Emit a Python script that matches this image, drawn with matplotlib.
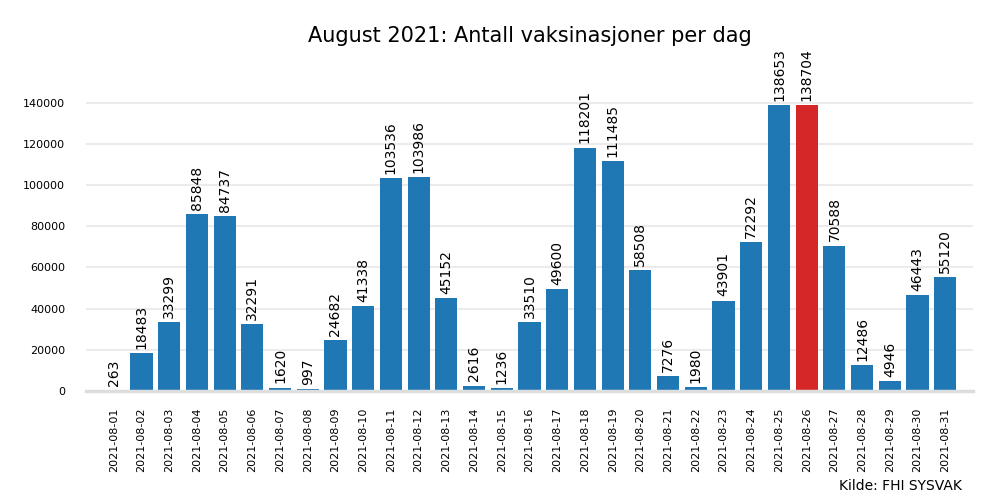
import numpy as np
import matplotlib
matplotlib.use('Agg')
import matplotlib.pyplot as plt

# ── Data: daily vaccinations, August 2021 ──
dates = ['2021-08-%02d' % d for d in range(1, 32)]
doses = [263, 18483, 33299, 85848, 84737, 32291, 1620, 997, 24682, 41338,
         103536, 103986, 45152, 2616, 1236, 33510, 49600, 118201, 111485, 58508,
         7276, 1980, 43901, 72292, 138653, 138704, 70588, 12486, 4946, 46443,
         55120]

# min day green, max day red, rest blue
colors = ['#1f77b4'] * len(doses)
colors[int(np.argmin(doses))] = '#2ca02c'
colors[int(np.argmax(doses))] = '#d62728'

fig = plt.figure(figsize=(10, 5), dpi=100)
ax = fig.add_axes([0.086, 0.218, 0.887, 0.600])

x = np.arange(len(dates))
bars = ax.bar(x, doses, width=0.8, color=colors, zorder=2)
ax.bar_label(bars, labels=[str(v) for v in doses], rotation=90, padding=3,
             fontsize=10)

ax.set_xlim(-1, len(dates))
ax.set_ylim(0, max(doses) * 1.05)
ax.set_xticks(x)
ax.set_xticklabels(dates, rotation=90, fontsize=8)
ax.set_yticks(np.arange(0, 140001, 20000))
ax.tick_params(axis='y', labelsize=8, length=0, pad=15)
ax.tick_params(axis='x', length=0, pad=12)
ax.yaxis.grid(True, color='#ebebeb', linewidth=1.5, zorder=0)
ax.set_axisbelow(True)
for s in ['top', 'right', 'left']:
    ax.spines[s].set_visible(False)
ax.spines['bottom'].set_color('#dddddd')
ax.spines['bottom'].set_linewidth(2.5)

fig.text(0.53, 0.927, 'August 2021: Antall vaksinasjoner per dag', ha='center',
         va='center', fontsize=15)
fig.text(0.962, 0.028, 'Kilde: FHI SYSVAK', ha='right', va='center', fontsize=10)

fig.savefig('out.png', dpi=100)
